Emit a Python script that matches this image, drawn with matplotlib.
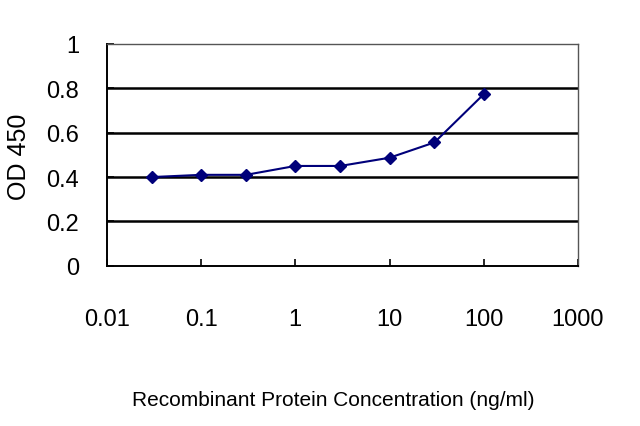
import matplotlib
matplotlib.use("Agg")
import matplotlib.pyplot as plt
from matplotlib.ticker import FixedLocator, NullLocator

plt.rcParams['font.family'] = ['Liberation Sans', 'DejaVu Sans']

concentration = [0.03, 0.1, 0.3, 1, 3, 10, 30, 100]
od450 = [0.40, 0.41, 0.41, 0.45, 0.45, 0.487, 0.556, 0.773]
x_ticks = [0.01, 0.1, 1, 10, 100, 1000]
x_tick_labels = ["0.01", "0.1", "1", "10", "100", "1000"]
y_ticks = [0, 0.2, 0.4, 0.6, 0.8, 1]
y_tick_labels = ["0", "0.2", "0.4", "0.6", "0.8", "1"]

fig = plt.figure(figsize=(6.4, 4.27), dpi=100)
ax = fig.add_axes([0.167, 0.375, 0.736, 0.52])

ax.set_xscale('log')
ax.set_xlim(0.01, 1000)
ax.set_ylim(0, 1)

for yv in y_ticks[1:-1]:
    ax.axhline(yv, color='black', lw=1.8, zorder=1)

ax.plot(concentration, od450, color='#00007a', lw=1.5, marker='D',
        markersize=6.5, markerfacecolor='#00007a', markeredgecolor='#00007a', zorder=3)

ax.xaxis.set_major_locator(FixedLocator(x_ticks))
ax.xaxis.set_minor_locator(NullLocator())
ax.set_xticklabels(x_tick_labels)
ax.set_yticks(y_ticks)
ax.set_yticklabels(y_tick_labels)

ax.tick_params(axis='x', direction='in', length=5, width=1.2, pad=30, labelsize=17, colors='black')
ax.tick_params(axis='y', direction='in', length=5, width=1.2, pad=20, labelsize=17, colors='black')

for side in ['left', 'bottom']:
    ax.spines[side].set_color('black')
    ax.spines[side].set_linewidth(1.4)
for side in ['top', 'right']:
    ax.spines[side].set_color('#555555')
    ax.spines[side].set_linewidth(1.0)

fig.text(0.030, 0.632, "OD 450", rotation=90, ha='center', va='center', fontsize=18)
fig.text(0.520, 0.063, "Recombinant Protein Concentration (ng/ml)", ha='center', va='center', fontsize=15)

fig.savefig("out.png", dpi=100)
